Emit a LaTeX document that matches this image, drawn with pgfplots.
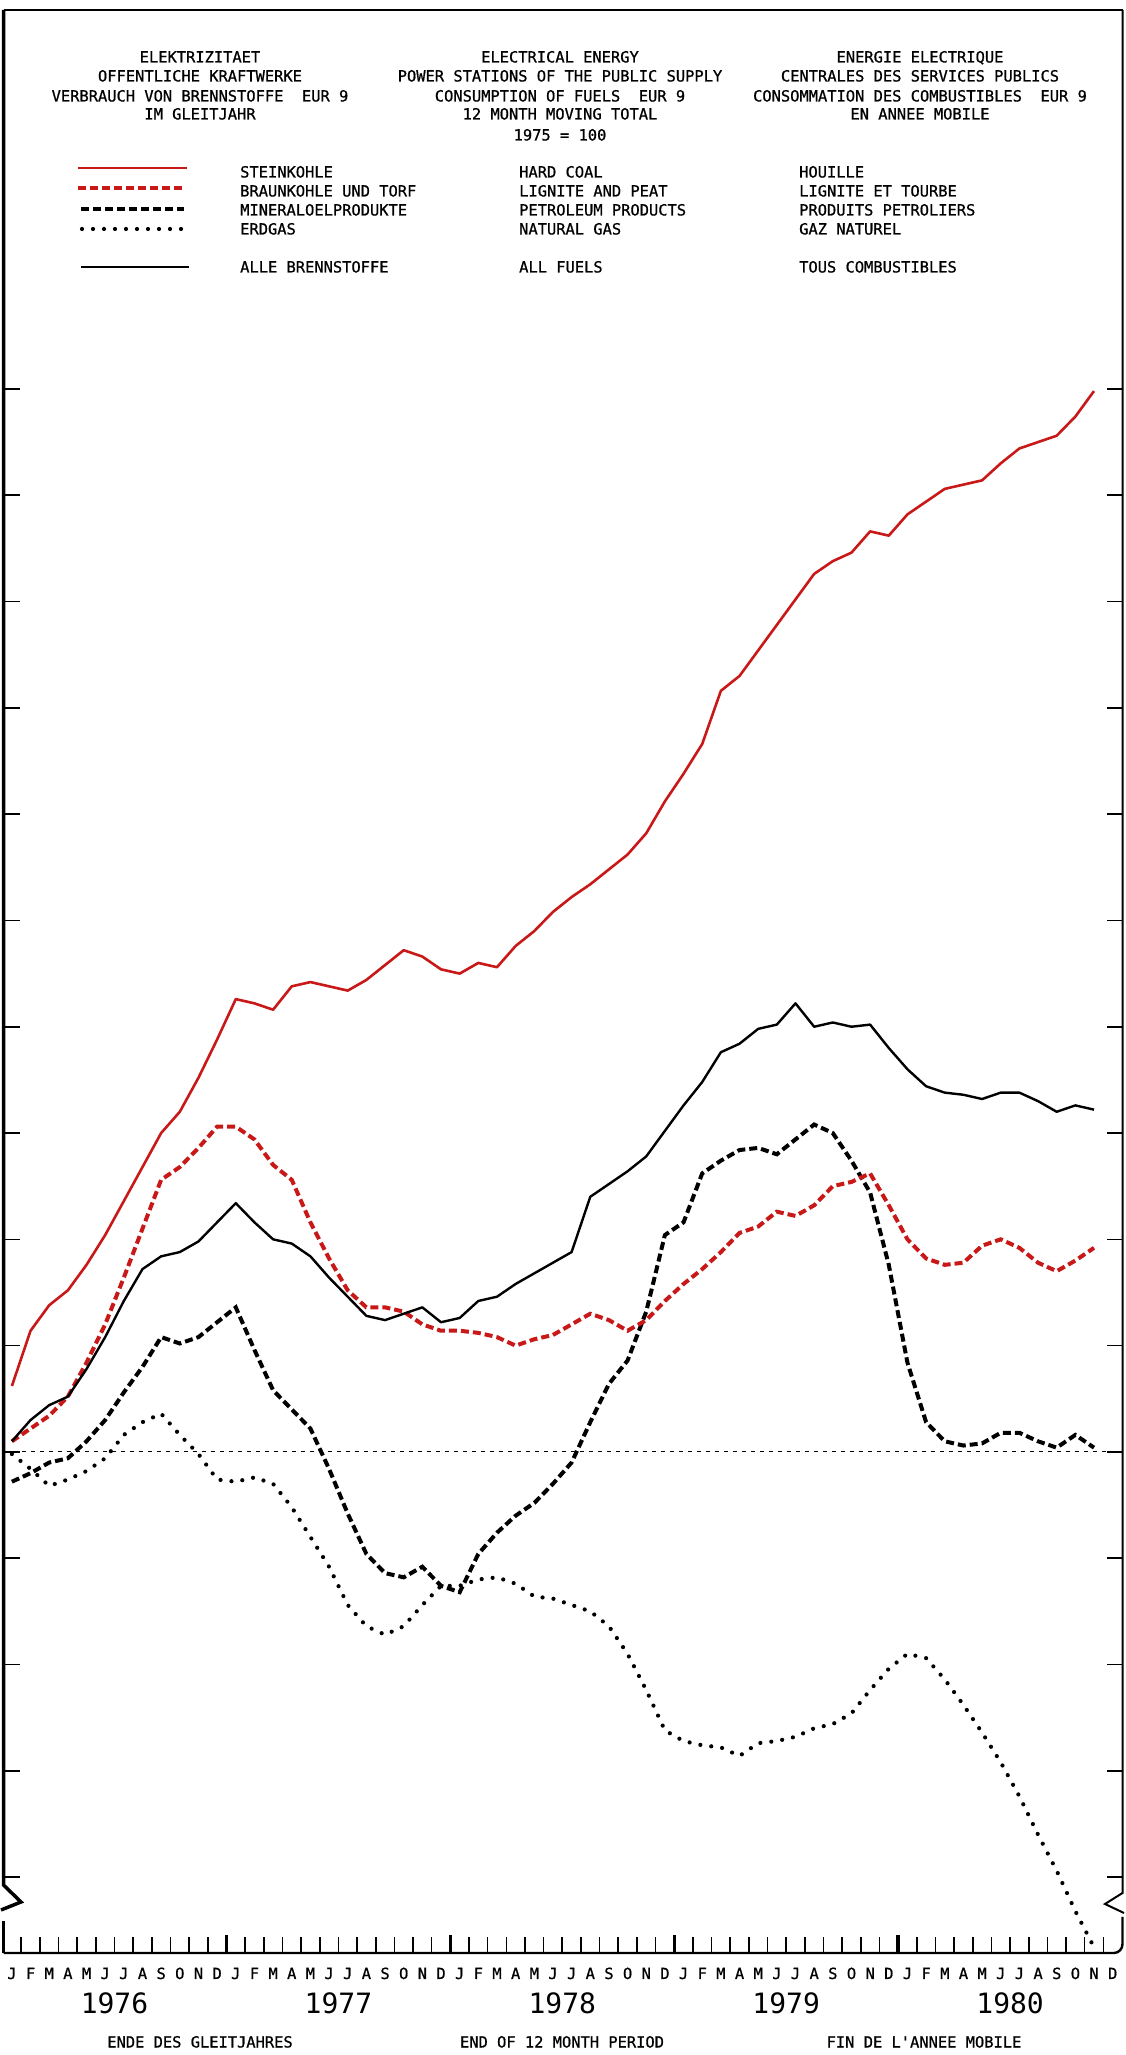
\documentclass[border=0pt]{standalone}
\usepackage{pgfplots}
\pgfplotsset{compat=1.18}
\usepackage{fontspec}
\newfontfamily\pf[FakeBold=0.8]{DejaVu Sans Mono}
\newfontfamily\yf{DejaVu Sans Mono}
\definecolor{cred}{RGB}{200,24,24}
\newcommand{\tf}{\pf\fontsize{15.4}{19}\selectfont}
\begin{document}
\begin{tikzpicture}
\begin{axis}[
 at={(0pt,0pt)}, anchor=south west,
 scale only axis, width=1119.5pt, height=1943pt,
 xmin=-0.45, xmax=59.55, ymin=76.43, ymax=167.83,
 axis line style={draw=none},
 xtick={0.5,1.5,...,58.5}, xticklabels={}, xtick pos=left,
 ytick={80,85,...,150}, yticklabels={}, ytick pos=both,
 tick align=inside, major tick length=16pt,
 tick style={line width=1.6pt, black},
 clip=false,
]
% reference line 1975 = 100
\addplot[black, line width=1pt, dash pattern=on 4pt off 5pt] coordinates {(-0.45,100) (59.55,100)};
% Erdgas
\addplot[black, line width=4.2pt, line cap=round, dash pattern=on 0pt off 11pt] coordinates {
(0,99.9)(1,99.2)(2,98.4)(3,98.7)(4,99.1)(5,99.7)(6,100.8)(7,101.4)(8,101.8)(9,100.8)
(10,99.9)(11,98.7)(12,98.6)(13,98.8)(14,98.5)(15,97.4)(16,96.0)(17,94.6)(18,92.8)(19,91.8)
(20,91.4)(21,91.8)(22,92.8)(23,93.7)(24,93.7)(25,94.0)(26,94.1)(27,93.8)(28,93.2)(29,93.1)
(30,92.8)(31,92.5)(32,91.8)(33,90.5)(34,88.8)(35,86.9)(36,86.4)(37,86.2)(38,86.1)(39,85.7)
(40,86.3)(41,86.4)(42,86.6)(43,87.0)(44,87.2)(45,87.7)(46,88.8)(47,89.8)(48,90.5)(49,90.3)
(50,89.3)(51,88.1)(52,86.8)(53,85.4)(54,83.8)(55,82.0)(56,80.3)(57,78.4)(58,76.7)};
% Mineraloelprodukte
\addplot[black, line width=4pt, dash pattern=on 8pt off 4pt] coordinates {
(0,98.6)(1,99.0)(2,99.5)(3,99.7)(4,100.5)(5,101.5)(6,102.8)(7,104.0)(8,105.4)(9,105.1)
(10,105.4)(11,106.1)(12,106.8)(13,104.8)(14,102.9)(15,102.0)(16,101.1)(17,99.2)(18,97.1)(19,95.2)
(20,94.3)(21,94.1)(22,94.6)(23,93.7)(24,93.4)(25,95.2)(26,96.2)(27,97.0)(28,97.6)(29,98.5)
(30,99.5)(31,101.4)(32,103.2)(33,104.3)(34,106.6)(35,110.2)(36,110.8)(37,113.1)(38,113.7)(39,114.2)
(40,114.3)(41,114.0)(42,114.7)(43,115.4)(44,115.0)(45,113.7)(46,112.2)(47,108.8)(48,104.2)(49,101.4)
(50,100.5)(51,100.3)(52,100.4)(53,100.9)(54,100.9)(55,100.5)(56,100.2)(57,100.8)(58,100.2)};
% Braunkohle und Torf
\addplot[cred, line width=4pt, dash pattern=on 8pt off 4pt] coordinates {
(0,100.5)(1,101.1)(2,101.7)(3,102.6)(4,104.2)(5,106.0)(6,108.2)(7,110.5)(8,112.8)(9,113.4)
(10,114.3)(11,115.3)(12,115.3)(13,114.7)(14,113.5)(15,112.8)(16,110.8)(17,109.1)(18,107.6)(19,106.8)
(20,106.8)(21,106.6)(22,106.0)(23,105.7)(24,105.7)(25,105.6)(26,105.4)(27,105.0)(28,105.3)(29,105.5)
(30,106.0)(31,106.5)(32,106.2)(33,105.7)(34,106.2)(35,107.1)(36,107.9)(37,108.6)(38,109.4)(39,110.3)
(40,110.6)(41,111.3)(42,111.1)(43,111.6)(44,112.5)(45,112.7)(46,113.1)(47,111.6)(48,110.0)(49,109.1)
(50,108.8)(51,108.9)(52,109.7)(53,110.0)(54,109.6)(55,108.9)(56,108.5)(57,109.0)(58,109.6)};
% Steinkohle
\addplot[cred, line width=2.6pt, line join=round] coordinates {
(0,103.1)(1,105.7)(2,106.9)(3,107.6)(4,108.8)(5,110.2)(6,111.8)(7,113.4)(8,115.0)(9,116.0)
(10,117.6)(11,119.4)(12,121.3)(13,121.1)(14,120.8)(15,121.9)(16,122.1)(17,121.9)(18,121.7)(19,122.2)
(20,122.9)(21,123.6)(22,123.3)(23,122.7)(24,122.5)(25,123.0)(26,122.8)(27,123.8)(28,124.5)(29,125.4)
(30,126.1)(31,126.7)(32,127.4)(33,128.1)(34,129.1)(35,130.6)(36,131.9)(37,133.3)(38,135.8)(39,136.5)
(40,137.7)(41,138.9)(42,140.1)(43,141.3)(44,141.9)(45,142.3)(46,143.3)(47,143.1)(48,144.1)(49,144.7)
(50,145.3)(51,145.5)(52,145.7)(53,146.5)(54,147.2)(55,147.5)(56,147.8)(57,148.7)(58,149.9)};
% Alle Brennstoffe
\addplot[black, line width=2.4pt, line join=round] coordinates {
(0,100.5)(1,101.5)(2,102.2)(3,102.6)(4,103.9)(5,105.4)(6,107.1)(7,108.6)(8,109.2)(9,109.4)
(10,109.9)(11,110.8)(12,111.7)(13,110.8)(14,110.0)(15,109.8)(16,109.2)(17,108.2)(18,107.3)(19,106.4)
(20,106.2)(21,106.5)(22,106.8)(23,106.1)(24,106.3)(25,107.1)(26,107.3)(27,107.9)(28,108.4)(29,108.9)
(30,109.4)(31,112.0)(32,112.6)(33,113.2)(34,113.9)(35,115.1)(36,116.3)(37,117.4)(38,118.8)(39,119.2)
(40,119.9)(41,120.1)(42,121.1)(43,120.0)(44,120.2)(45,120.0)(46,120.1)(47,119.0)(48,118.0)(49,117.2)
(50,116.9)(51,116.8)(52,116.6)(53,116.9)(54,116.9)(55,116.5)(56,116.0)(57,116.3)(58,116.1)};
\end{axis}
\begin{scope}[x=1pt, y=-1pt, shift={(-3.5pt,1953pt)}]
% frame and axis breaks
\draw[line width=2pt] (3.5,10) -- (1122.5,10);
\draw[line width=3.5pt, line join=miter] (3.5,10) -- (3.5,1885) -- (21,1902) -- (1,1910);
\draw[line width=3.5pt] (3.5,1921) -- (3.5,1953);
\draw[line width=2.4pt] (3.5,1953) -- (1114,1953) to[out=0,in=-90] (1122.5,1944) -- (1122.5,1917);
\draw[line width=2pt, line join=miter] (1122.5,10) -- (1122.5,1893) -- (1105,1904) -- (1124,1913);
% year ticks
\foreach \xx in {226.5,450.4,674.3,898.2} \draw[line width=3.6pt] (\xx,1953) -- (\xx,1935);
% month labels
\foreach \yy in {0,...,4}{
 \foreach \i/\l in {0/J,1/F,2/M,3/A,4/M,5/J,6/J,7/A,8/S,9/O,10/N,11/D}{
  \node[anchor=base, inner sep=0pt, font=\tf] at ({11.9+18.658*(12*\yy+\i)},1979) {\l};
 }}
% years
\foreach \yr/\xx in {1976/114.5,1977/338.4,1978/562.3,1979/786.2,1980/1010.1}
 \node[anchor=base, inner sep=0pt, font=\yf\fontsize{28}{30}\selectfont] at (\xx,2013) {\yr};
% bottom captions
\node[anchor=base, inner sep=0pt, font=\tf] at (200,2047.5) {ENDE DES GLEITJAHRES};
\node[anchor=base, inner sep=0pt, font=\tf] at (562,2047.5) {END OF 12 MONTH PERIOD};
\node[anchor=base, inner sep=0pt, font=\tf] at (924,2047.5) {FIN DE L'ANNEE MOBILE};
% header
\begin{scope}[every node/.style={anchor=base, inner sep=0pt, font=\tf}]
\node at (200,62.5) {ELEKTRIZITAET};
\node at (200,81.5) {OFFENTLICHE KRAFTWERKE};
\node at (200,101.5) {VERBRAUCH VON BRENNSTOFFE\ \ EUR 9};
\node at (200,119.5) {IM GLEITJAHR};
\node at (560,62.5) {ELECTRICAL ENERGY};
\node at (560,81.5) {POWER STATIONS OF THE PUBLIC SUPPLY};
\node at (560,101.5) {CONSUMPTION OF FUELS\ \ EUR 9};
\node at (560,119.5) {12 MONTH MOVING TOTAL};
\node at (560,140.5) {1975 = 100};
\node at (920,62.5) {ENERGIE ELECTRIQUE};
\node at (920,81.5) {CENTRALES DES SERVICES PUBLICS};
\node at (920,101.5) {CONSOMMATION DES COMBUSTIBLES\ \ EUR 9};
\node at (920,119.5) {EN ANNEE MOBILE};
\end{scope}
% legend
\draw[cred, line width=2.6pt] (78,168) -- (187,168);
\draw[cred, line width=4pt, dash pattern=on 8pt off 4pt] (78,188) -- (184,188);
\draw[black, line width=4pt, dash pattern=on 8pt off 4pt] (81,209) -- (184,209);
\draw[black, line width=4.2pt, line cap=round, dash pattern=on 0pt off 11pt] (82,229) -- (182,229);
\draw[black, line width=2.4pt] (81,267) -- (189,267);
\begin{scope}[every node/.style={anchor=base west, inner sep=0pt, font=\tf}]
\node at (240,177.5) {STEINKOHLE};
\node at (240,196.5) {BRAUNKOHLE UND TORF};
\node at (240,215.5) {MINERALOELPRODUKTE};
\node at (240,234.5) {ERDGAS};
\node at (240,272.5) {ALLE BRENNSTOFFE};
\node at (519,177.5) {HARD COAL};
\node at (519,196.5) {LIGNITE AND PEAT};
\node at (519,215.5) {PETROLEUM PRODUCTS};
\node at (519,234.5) {NATURAL GAS};
\node at (519,272.5) {ALL FUELS};
\node at (799,177.5) {HOUILLE};
\node at (799,196.5) {LIGNITE ET TOURBE};
\node at (799,215.5) {PRODUITS PETROLIERS};
\node at (799,234.5) {GAZ NATUREL};
\node at (799,272.5) {TOUS COMBUSTIBLES};
\end{scope}
\end{scope}
\pgfresetboundingbox
\path[use as bounding box] (-3.5pt,-102pt) rectangle (1122.5pt,1953pt);
\end{tikzpicture}
\end{document}
